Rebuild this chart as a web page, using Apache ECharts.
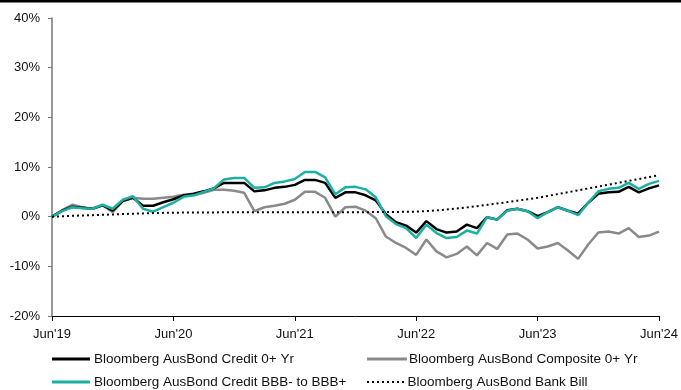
<!DOCTYPE html>
<html>
<head>
<meta charset="utf-8">
<script src="https://cdn.jsdelivr.net/npm/echarts@6/dist/echarts.min.js"></script>
<style>
html,body{margin:0;padding:0;background:#fff;}
#chart{width:681px;height:390px;}
</style>
</head>
<body>
<div id="chart"></div>
<script>
var months = ("Jun'19 Jul'19 Aug'19 Sep'19 Oct'19 Nov'19 Dec'19 Jan'20 Feb'20 Mar'20 Apr'20 May'20 " +
  "Jun'20 Jul'20 Aug'20 Sep'20 Oct'20 Nov'20 Dec'20 Jan'21 Feb'21 Mar'21 Apr'21 May'21 " +
  "Jun'21 Jul'21 Aug'21 Sep'21 Oct'21 Nov'21 Dec'21 Jan'22 Feb'22 Mar'22 Apr'22 May'22 " +
  "Jun'22 Jul'22 Aug'22 Sep'22 Oct'22 Nov'22 Dec'22 Jan'23 Feb'23 Mar'23 Apr'23 May'23 " +
  "Jun'23 Jul'23 Aug'23 Sep'23 Oct'23 Nov'23 Dec'23 Jan'24 Feb'24 Mar'24 Apr'24 May'24 Jun'24").split(' ');

var yTicks = [-20, -10, 0, 10, 20, 30, 40];

var credit = [0, 1.2, 2.0, 1.8, 1.6, 2.3, 1.2, 3.2, 3.8, 2.2, 2.2, 2.9,
  3.5, 4.3, 4.6, 5.1, 5.7, 6.8, 6.8, 6.8, 5.1, 5.3, 5.8, 6.0,
  6.4, 7.4, 7.4, 6.8, 3.8, 4.9, 4.9, 4.3, 3.3, 0.5, -1.1, -1.8,
  -3.2, -0.9, -2.5, -3.2, -3.0, -1.6, -2.3, -0.1, -0.6, 1.3, 1.6, 1.1,
  0.1, 0.9, 1.9, 1.2, 0.6, 2.8, 4.6, 4.9, 5.0, 6.0, 4.9, 5.7, 6.3];

var composite = [0, 1.3, 2.4, 1.9, 1.6, 2.3, 0.9, 3.1, 3.8, 3.6, 3.6, 3.8,
  4.0, 4.4, 4.3, 4.8, 5.4, 5.4, 5.2, 4.8, 1.1, 1.9, 2.2, 2.6,
  3.4, 5.0, 5.0, 3.8, 0.0, 1.9, 2.0, 1.2, -0.3, -4.0, -5.3, -6.3,
  -7.7, -4.6, -7.0, -8.2, -7.5, -6.0, -7.8, -5.3, -6.5, -3.6, -3.4, -4.6,
  -6.4, -6.0, -5.3, -6.8, -8.5, -5.6, -3.2, -3.0, -3.4, -2.3, -4.1, -3.8, -3.0];

var bbb = [0, 1.1, 1.9, 1.7, 1.6, 2.4, 1.6, 3.4, 4.1, 1.6, 1.0, 1.9,
  2.8, 4.0, 4.3, 5.0, 5.7, 7.5, 7.8, 7.8, 5.8, 5.9, 6.8, 7.1,
  7.6, 9.0, 9.0, 7.9, 4.5, 5.9, 6.0, 5.5, 3.9, 0.1, -1.5, -2.3,
  -4.3, -1.6, -3.3, -4.3, -4.1, -2.8, -3.4, -0.1, -0.6, 1.2, 1.6, 1.1,
  -0.3, 0.9, 1.9, 1.2, 0.3, 2.8, 5.1, 5.6, 5.8, 6.8, 5.6, 6.6, 7.2];

var bankBill = [0, 0.08, 0.16, 0.24, 0.31, 0.38, 0.45, 0.52, 0.59, 0.66, 0.72, 0.77,
  0.80, 0.82, 0.84, 0.85, 0.86, 0.87, 0.88, 0.88, 0.89, 0.89, 0.89, 0.90,
  0.90, 0.90, 0.90, 0.90, 0.91, 0.91, 0.91, 0.91, 0.92, 0.93, 0.95, 0.98,
  1.02, 1.12, 1.26, 1.44, 1.64, 1.87, 2.12, 2.38, 2.65, 2.93, 3.22, 3.51,
  3.80, 4.17, 4.54, 4.92, 5.30, 5.68, 6.06, 6.44, 6.82, 7.20, 7.58, 7.97, 8.36];

var names = ['Bloomberg AusBond Credit 0+ Yr', 'Bloomberg AusBond Composite 0+ Yr',
  'Bloomberg AusBond Credit BBB- to BBB+', 'Bloomberg AusBond Bank Bill'];

var FONT = 'Liberation Sans, Arial, sans-serif';
var chart = echarts.init(document.getElementById('chart'), null, {renderer: 'canvas'});

var dotIcon = 'path://M0,0h2v2h-2z M5,0h2v2h-2z M10,0h2v2h-2z M15,0h2v2h-2z M20,0h2v2h-2z M25,0h2v2h-2z M30,0h2v2h-2z M35,0h2v2h-2z';

function leg(name, left, top, icon, w, h, shift) {
  return {
    data: [name], left: left, top: top, icon: icon, itemWidth: w, itemHeight: h, itemGap: 0,
    padding: 0, selectedMode: false,
    textStyle: {fontFamily: FONT, fontSize: 13.5, color: '#111', padding: [0, 0, 0, shift]}
  };
}

chart.setOption({
  animation: false,
  backgroundColor: '#fff',
  grid: {left: 52, right: 17, top: 18, bottom: 74, containLabel: false},
  graphic: [{type: 'rect', shape: {x: 0, y: 0, width: 681, height: 2.5}, style: {fill: '#000'}}],
  legend: [
    leg(names[0], 52, 352, 'rect', 38, 3, -1),
    leg(names[1], 367, 352, 'rect', 40, 3, -3),
    leg(names[2], 52, 375, 'rect', 38, 3, -1),
    leg(names[3], 367, 375, dotIcon, 40, 2, -3)
  ],
  xAxis: {
    type: 'category', data: months, boundaryGap: false,
    axisLine: {onZero: false, lineStyle: {color: '#000', width: 1}},
    axisTick: {interval: 11, length: 5, lineStyle: {color: '#000'}},
    axisLabel: {interval: 11, margin: 12, fontFamily: FONT, fontSize: 13, color: '#111', showMaxLabel: true},
    splitLine: {show: false}
  },
  yAxis: {
    type: 'value', min: yTicks[0], max: yTicks[yTicks.length - 1], interval: 10,
    axisLine: {show: true, lineStyle: {color: '#777', width: 1.5}},
    axisTick: {show: true, length: 4, lineStyle: {color: '#777'}},
    axisLabel: {formatter: '{value}%', margin: 12, fontFamily: FONT, fontSize: 13, color: '#111'},
    splitLine: {show: false}
  },
  series: [
    {name: names[1], type: 'line', data: composite, symbol: 'none', z: 2,
      lineStyle: {color: '#8a8a8a', width: 2.5}, itemStyle: {color: '#8a8a8a'}},
    {name: names[0], type: 'line', data: credit, symbol: 'none', z: 3,
      lineStyle: {color: '#000', width: 2.5}, itemStyle: {color: '#000'}},
    {name: names[2], type: 'line', data: bbb, symbol: 'none', z: 4,
      lineStyle: {color: '#1cafa3', width: 2.5}, itemStyle: {color: '#1cafa3'}},
    {name: names[3], type: 'line', data: bankBill, symbol: 'none', z: 5,
      lineStyle: {color: '#000', width: 2, type: [2, 3]}, itemStyle: {color: '#000'}}
  ]
});
</script>
</body>
</html>
